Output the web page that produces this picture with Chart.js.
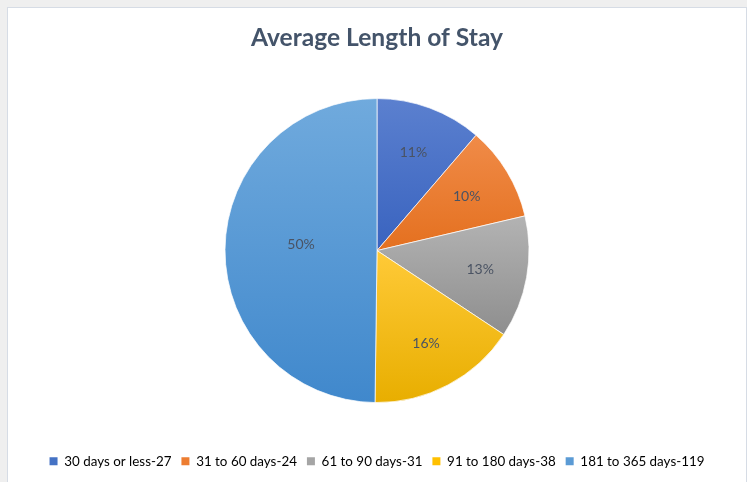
<!DOCTYPE html>
<html>
<head>
<meta charset="utf-8">
<script src="https://cdn.jsdelivr.net/npm/chart.js@4.4.1/dist/chart.umd.min.js"></script>
<style>
  html, body { margin: 0; padding: 0; background: #efefef; }
  #panel {
    position: absolute; left: 7px; top: 7px;
    width: 738px; height: 475px;
    background: #fff;
    border: 1px solid #d6dce5;
  }
  #box { position: relative; width: 738px; height: 474px; }
</style>
</head>
<body>
<div id="panel"><div id="box"><canvas id="chart"></canvas></div></div>
<script>
const labels = ['30 days or less', '31 to 60 days', '61 to 90 days', '91 to 180 days', '181 to 365 days'];
const values = [27, 24, 31, 38, 119];

// top / bottom shades of each slice's gradient
const topColors = ['#5b80cf', '#f08b48', '#b3b3b3', '#ffca38', '#70aadd'];
const bottomColors = ['#3963bf', '#e4701f', '#8e8e8e', '#e8ae00', '#4088cc'];
const legendColors = ['#4472c4', '#ed7d31', '#a5a5a5', '#ffc000', '#5b9bd5'];

const total = values.reduce((a, b) => a + b, 0);

// vertical extent of slice i, from its angles, so each slice gets its own gradient
function sliceRange(chart, i) {
  const area = chart.chartArea;
  const cx = (area.left + area.right) / 2;
  const cy = (area.top + area.bottom) / 2;
  const r = 152;
  let before = 0;
  for (let k = 0; k < i; k++) before += values[k];
  const a0 = -Math.PI / 2 + before / total * 2 * Math.PI;
  const a1 = a0 + values[i] / total * 2 * Math.PI;
  const ys = [cy, cy + r * Math.sin(a0), cy + r * Math.sin(a1)];
  const within = a => {
    for (let t = a - 4 * Math.PI; t <= a1; t += 2 * Math.PI) if (t >= a0 && t <= a1) return true;
    return false;
  };
  if (within(Math.PI / 2)) ys.push(cy + r);
  if (within(-Math.PI / 2)) ys.push(cy - r);
  return [Math.min(...ys), Math.max(...ys)];
}

function sliceFill(context) {
  const chart = context.chart;
  const i = context.dataIndex;
  if (!chart.chartArea) return legendColors[i];
  const [y0, y1] = sliceRange(chart, i);
  const g = chart.ctx.createLinearGradient(0, y0, 0, y1);
  g.addColorStop(0, topColors[i]);
  g.addColorStop(1, bottomColors[i]);
  return g;
}

const percentLabels = {
  id: 'percentLabels',
  afterDatasetsDraw(chart) {
    const ctx = chart.ctx;
    const meta = chart.getDatasetMeta(0);
    ctx.save();
    ctx.font = '14px Lato';
    ctx.fillStyle = '#4a5363';
    ctx.textAlign = 'center';
    ctx.textBaseline = 'middle';
    meta.data.forEach((arc, i) => {
      const p = arc.getProps(['x', 'y', 'startAngle', 'endAngle', 'outerRadius'], true);
      const mid = (p.startAngle + p.endAngle) / 2;
      const half = (p.endAngle - p.startAngle) / 2;
      const R = p.outerRadius;
      const big = half > Math.PI / 3;
      const d = big ? 0.5 * R : 0.69 * R;
      const pct = Math.round(values[i] / total * 100) + '%';
      ctx.fillText(pct, p.x + d * Math.cos(mid), p.y + d * Math.sin(mid) - (big ? 6 : 0));
    });
    ctx.restore();
  }
};

new Chart(document.getElementById('chart'), {
  type: 'pie',
  data: {
    labels: labels,
    datasets: [{
      data: values,
      backgroundColor: sliceFill,
      borderColor: 'rgba(255,255,255,0.7)',
      borderWidth: 1
    }]
  },
  options: {
    responsive: true,
    maintainAspectRatio: false,
    animation: false,
    radius: 152,
    layout: { padding: { bottom: 4 } },
    plugins: {
      title: {
        display: true,
        text: 'Average Length of Stay',
        color: '#44546a',
        font: { family: 'Lato', size: 24.6, weight: 'bold' },
        padding: { top: 15, bottom: 4 }
      },
      legend: {
        position: 'bottom',
        labels: {
          font: { family: 'Lato', size: 13.4 },
          color: '#595959',
          boxWidth: 8,
          boxHeight: 8,
          padding: 10,
          generateLabels: chart => labels.map((l, i) => ({
            text: l + '-' + values[i],
            fillStyle: legendColors[i],
            strokeStyle: legendColors[i],
            lineWidth: 0,
            index: i
          }))
        }
      },
      tooltip: { enabled: false }
    }
  },
  plugins: [percentLabels]
});
</script>
</body>
</html>
